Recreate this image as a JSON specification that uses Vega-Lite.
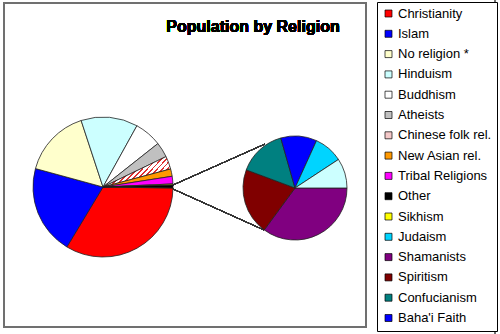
{
  "$schema": "https://vega.github.io/schema/vega-lite/v6.json",
  "width": 500,
  "height": 334,
  "autosize": "none",
  "padding": 0,
  "background": "white",
  "config": {"view": {"stroke": null}},
  "data": {"values": [
    {"religion": "Christianity", "share": 33.4, "pie": "main", "k": 1},
    {"religion": "Islam", "share": 20.6, "pie": "main", "k": 2},
    {"religion": "No religion *", "share": 15.7, "pie": "main", "k": 3},
    {"religion": "Hinduism", "share": 13.1, "pie": "main", "k": 4},
    {"religion": "Buddhism", "share": 6.3, "pie": "main", "k": 5},
    {"religion": "Atheists", "share": 3.5, "pie": "main", "k": 6},
    {"religion": "Chinese folk rel.", "share": 3.0, "pie": "main", "k": 7},
    {"religion": "New Asian rel.", "share": 1.7, "pie": "main", "k": 8},
    {"religion": "Tribal Religions", "share": 1.75, "pie": "main", "k": 9},
    {"religion": "Sikhism", "share": 0.25, "pie": "main", "k": 10},
    {"religion": "Other", "share": 0.67, "pie": "main", "k": 11},
    {"religion": "Shamanists", "share": 0.235, "pie": "second", "k": 1},
    {"religion": "Spiritism", "share": 0.138, "pie": "second", "k": 2},
    {"religion": "Confucianism", "share": 0.1, "pie": "second", "k": 3},
    {"religion": "Baha'i Faith", "share": 0.075, "pie": "second", "k": 4},
    {"religion": "Judaism", "share": 0.06, "pie": "second", "k": 5},
    {"religion": "Smaller groups", "share": 0.062, "pie": "second", "k": 6}
  ]},
  "resolve": {"scale": {"theta": "independent"}},
  "layer": [
    {
      "mark": {"type": "rect", "fill": null, "stroke": "#707070", "strokeWidth": 1.5},
      "encoding": {
        "x": {"datum": 4, "type": "quantitative", "scale": {"domain": [0, 500], "nice": false, "zero": false}, "axis": null},
        "x2": {"datum": 366},
        "y": {"datum": 3, "type": "quantitative", "scale": {"domain": [0, 334], "nice": false, "zero": false, "reverse": true}, "axis": null},
        "y2": {"datum": 327}
      }
    },
    {
      "mark": {"type": "rule", "stroke": "#707070", "strokeWidth": 1.5},
      "encoding": {
        "x": {"datum": 495, "type": "quantitative"},
        "y": {"datum": 0, "type": "quantitative"},
        "y2": {"datum": 334}
      }
    },
    {
      "mark": {"type": "text", "text": "Population by Religion", "font": "Liberation Sans", "fontSize": 16, "fontWeight": "bold", "color": "#000000", "align": "center", "baseline": "alphabetic"},
      "encoding": {
        "x": {"datum": 253, "type": "quantitative"},
        "y": {"datum": 32, "type": "quantitative"}
      }
    },
    {
      "mark": {"type": "rule", "stroke": "#333333", "strokeWidth": 0.8},
      "encoding": {
        "x": {"datum": 173, "type": "quantitative"},
        "y": {"datum": 185, "type": "quantitative"},
        "x2": {"datum": 265},
        "y2": {"datum": 144}
      }
    },
    {
      "mark": {"type": "rule", "stroke": "#333333", "strokeWidth": 0.8},
      "encoding": {
        "x": {"datum": 173, "type": "quantitative"},
        "y": {"datum": 189, "type": "quantitative"},
        "x2": {"datum": 264},
        "y2": {"datum": 230}
      }
    },
    {
      "transform": [{"filter": "datum.pie === 'main'"}],
      "mark": {"type": "arc", "outerRadius": 70, "stroke": "#222222", "strokeWidth": 0.8},
      "encoding": {
        "x": {"datum": 103, "type": "quantitative"},
        "y": {"datum": 187, "type": "quantitative"},
        "theta": {"field": "share", "type": "quantitative", "stack": true, "scale": {"range": [1.5848, 7.868]}},
        "order": {"field": "k", "type": "quantitative"},
        "color": {
          "field": "religion",
          "type": "nominal",
          "condition": {"test": "datum.religion === 'Chinese folk rel.'", "value": {"gradient": "linear", "x1": 0, "y1": 0, "x2": 1, "y2": 0.43, "stops": [
            {"offset": 0, "color": "#e03030"}, {"offset": 0.022, "color": "#e03030"}, {"offset": 0.022, "color": "#ffffff"}, {"offset": 0.0625, "color": "#ffffff"},
            {"offset": 0.0625, "color": "#e03030"}, {"offset": 0.0845, "color": "#e03030"}, {"offset": 0.0845, "color": "#ffffff"}, {"offset": 0.125, "color": "#ffffff"},
            {"offset": 0.125, "color": "#e03030"}, {"offset": 0.147, "color": "#e03030"}, {"offset": 0.147, "color": "#ffffff"}, {"offset": 0.1875, "color": "#ffffff"},
            {"offset": 0.1875, "color": "#e03030"}, {"offset": 0.2095, "color": "#e03030"}, {"offset": 0.2095, "color": "#ffffff"}, {"offset": 0.25, "color": "#ffffff"},
            {"offset": 0.25, "color": "#e03030"}, {"offset": 0.272, "color": "#e03030"}, {"offset": 0.272, "color": "#ffffff"}, {"offset": 0.3125, "color": "#ffffff"},
            {"offset": 0.3125, "color": "#e03030"}, {"offset": 0.3345, "color": "#e03030"}, {"offset": 0.3345, "color": "#ffffff"}, {"offset": 0.375, "color": "#ffffff"},
            {"offset": 0.375, "color": "#e03030"}, {"offset": 0.397, "color": "#e03030"}, {"offset": 0.397, "color": "#ffffff"}, {"offset": 0.4375, "color": "#ffffff"},
            {"offset": 0.4375, "color": "#e03030"}, {"offset": 0.4595, "color": "#e03030"}, {"offset": 0.4595, "color": "#ffffff"}, {"offset": 0.5, "color": "#ffffff"},
            {"offset": 0.5, "color": "#e03030"}, {"offset": 0.522, "color": "#e03030"}, {"offset": 0.522, "color": "#ffffff"}, {"offset": 0.5625, "color": "#ffffff"},
            {"offset": 0.5625, "color": "#e03030"}, {"offset": 0.5845, "color": "#e03030"}, {"offset": 0.5845, "color": "#ffffff"}, {"offset": 0.625, "color": "#ffffff"},
            {"offset": 0.625, "color": "#e03030"}, {"offset": 0.647, "color": "#e03030"}, {"offset": 0.647, "color": "#ffffff"}, {"offset": 0.6875, "color": "#ffffff"},
            {"offset": 0.6875, "color": "#e03030"}, {"offset": 0.7095, "color": "#e03030"}, {"offset": 0.7095, "color": "#ffffff"}, {"offset": 0.75, "color": "#ffffff"},
            {"offset": 0.75, "color": "#e03030"}, {"offset": 0.772, "color": "#e03030"}, {"offset": 0.772, "color": "#ffffff"}, {"offset": 0.8125, "color": "#ffffff"},
            {"offset": 0.8125, "color": "#e03030"}, {"offset": 0.8345, "color": "#e03030"}, {"offset": 0.8345, "color": "#ffffff"}, {"offset": 0.875, "color": "#ffffff"},
            {"offset": 0.875, "color": "#e03030"}, {"offset": 0.897, "color": "#e03030"}, {"offset": 0.897, "color": "#ffffff"}, {"offset": 0.9375, "color": "#ffffff"},
            {"offset": 0.9375, "color": "#e03030"}, {"offset": 0.9595, "color": "#e03030"}, {"offset": 0.9595, "color": "#ffffff"}, {"offset": 1, "color": "#ffffff"}
          ]}},
          "scale": {
            "domain": ["Christianity", "Islam", "No religion *", "Hinduism", "Buddhism", "Atheists", "Chinese folk rel.", "New Asian rel.", "Tribal Religions", "Other", "Sikhism", "Judaism", "Shamanists", "Spiritism", "Confucianism", "Baha'i Faith", "Smaller groups"],
            "range": ["#ff0000", "#0000ff", "#ffffcc", "#ccffff", "#ffffff", "#c0c0c0", "#f4c8c8", "#ff9900", "#ff00ff", "#000000", "#ffff00", "#00d4ff", "#800080", "#800000", "#008080", "#0000ff", "#ccffff"]
          },
          "legend": {
            "title": null,
            "orient": "none",
            "legendX": 377,
            "legendY": 2,
            "direction": "vertical",
            "values": ["Christianity", "Islam", "No religion *", "Hinduism", "Buddhism", "Atheists", "Chinese folk rel.", "New Asian rel.", "Tribal Religions", "Other", "Sikhism", "Judaism", "Shamanists", "Spiritism", "Confucianism", "Baha'i Faith"],
            "symbolType": "square",
            "symbolSize": 49,
            "symbolStrokeColor": "#000000",
            "symbolStrokeWidth": 0.7,
            "labelFont": "Liberation Sans",
            "labelFontSize": 13,
            "labelColor": "#000000",
            "labelOffset": 3,
            "labelLimit": 200,
            "rowPadding": 6.3,
            "padding": 5,
            "strokeColor": "#000000",
            "fillColor": "#ffffff",
            "encode": {
              "symbols": {
                "update": {
                  "stroke": {"value": "#000000"},
                  "strokeWidth": {"value": 0.7},
                  "fill": [
                    {"test": "datum.label === 'Chinese folk rel.' || datum.value === 'Chinese folk rel.'", "value": {"gradient": "linear", "x1": 0, "y1": 0, "x2": 1, "y2": 1, "stops": [
                      {"offset": 0, "color": "#e03030"}, {"offset": 0.12, "color": "#e03030"}, {"offset": 0.12, "color": "#ffffff"}, {"offset": 0.333, "color": "#ffffff"},
                      {"offset": 0.333, "color": "#e03030"}, {"offset": 0.453, "color": "#e03030"}, {"offset": 0.453, "color": "#ffffff"}, {"offset": 0.667, "color": "#ffffff"},
                      {"offset": 0.667, "color": "#e03030"}, {"offset": 0.787, "color": "#e03030"}, {"offset": 0.787, "color": "#ffffff"}, {"offset": 1, "color": "#ffffff"}
                    ]}},
                    {"scale": "color", "field": "value"}
                  ]
                }
              }
            }
          }
        }
      }
    },
    {
      "transform": [{"filter": "datum.pie === 'second'"}],
      "mark": {"type": "arc", "outerRadius": 52, "stroke": "#222222", "strokeWidth": 0.8},
      "encoding": {
        "x": {"datum": 295, "type": "quantitative"},
        "y": {"datum": 188, "type": "quantitative"},
        "theta": {"field": "share", "type": "quantitative", "stack": true, "scale": {"range": [1.5708, 7.854]}},
        "order": {"field": "k", "type": "quantitative"},
        "color": {"field": "religion", "type": "nominal"}
      }
    }
  ]
}
